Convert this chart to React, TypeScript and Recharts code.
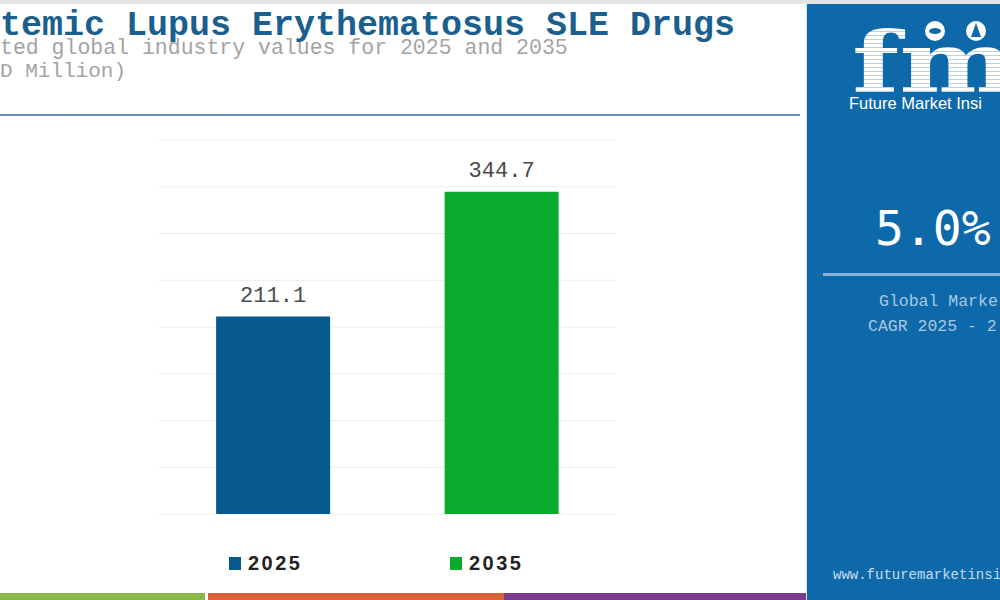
import React from 'react';
import { BarChart, Bar, XAxis, YAxis, CartesianGrid, Cell, LabelList } from 'recharts';

const years = ['2025', '2035'];
const values = [211.1, 344.7];
const barColors = ['#05598d', '#09ab2d'];
const yTicks = [0, 50, 100, 150, 200, 250, 300, 350, 400];

const MONO = '"Liberation Mono", "Courier New", monospace';

const chartData = years.map((y, i) => ({ year: y, value: values[i] }));

const Header = () => (
  <div style={{ position: 'absolute', left: 0, top: 0, width: 806, height: 120 }}>
    <div style={{ position: 'absolute', left: 0, top: 0, width: 1000, height: 4, background: '#e4e4e4' }} />
    <div style={{ position: 'absolute', left: 0, top: 8, fontFamily: MONO, fontWeight: 700, fontSize: 35, lineHeight: '36px', color: '#1b5f8e', whiteSpace: 'nowrap' }}>
      temic Lupus Erythematosus SLE Drugs
    </div>
    <div style={{ position: 'absolute', left: 0, top: 38, fontFamily: MONO, fontSize: 21.5, lineHeight: '21px', color: '#a3a3a3', whiteSpace: 'nowrap' }}>
      ted global industry values for 2025 and 2035
    </div>
    <div style={{ position: 'absolute', left: 0, top: 61, fontFamily: MONO, fontSize: 21, lineHeight: '21px', color: '#a3a3a3', whiteSpace: 'nowrap' }}>
      D Million)
    </div>
    <div style={{ position: 'absolute', left: 0, top: 114, width: 800, height: 2, background: 'linear-gradient(90deg, #6e91b8, #6a8fa8)' }} />
  </div>
);

const SidePanel = () => (
  <div style={{ position: 'absolute', left: 806, top: 4, width: 194, height: 596, background: '#0e69aa', overflow: 'hidden', borderLeft: '1px solid #dfe7ee', boxSizing: 'border-box' }}>
    <svg width={194} height={112} style={{ position: 'absolute', left: 0, top: -4 }}>
      <defs>
        <pattern id="stripes" width="4" height="4" patternUnits="userSpaceOnUse">
          <rect width="4" height="3" fill="#ffffff" />
          <rect y="3" width="4" height="1" fill="#b9d2e8" />
        </pattern>
      </defs>
      <text x={45} y={92} fontFamily='"DejaVu Serif", serif' fontWeight={700} fontSize={84} fill="url(#stripes)" textLength={205} lengthAdjust="spacingAndGlyphs">fmi</text>
      <circle cx={128} cy={31} r={10} fill="#ffffff" />
      <ellipse cx={128} cy={31} rx={6} ry={3} fill="#0e69aa" />
      <circle cx={169} cy={31} r={10} fill="#ffffff" />
      <path d="M169 23 L164 37 L174 37 Z" fill="#0e69aa" />
      <text x={42} y={109} fontFamily='"Liberation Sans", Arial, sans-serif' fontSize={16.5} fill="#ffffff">Future Market Insi</text>
    </svg>
    <div style={{ position: 'absolute', left: 68, top: 196, fontFamily: '"DejaVu Sans Mono", monospace', fontSize: 48, lineHeight: '56px', color: '#ffffff', whiteSpace: 'nowrap' }}>5.0%</div>
    <div style={{ position: 'absolute', left: 16, top: 269, width: 190, height: 3, background: '#86b4d8' }} />
    <div style={{ position: 'absolute', left: 72, top: 288, fontFamily: MONO, fontSize: 16.5, lineHeight: '20px', color: '#a8c8e2', whiteSpace: 'nowrap' }}>Global Marke</div>
    <div style={{ position: 'absolute', left: 61, top: 313, fontFamily: MONO, fontSize: 16.5, lineHeight: '20px', color: '#a8c8e2', whiteSpace: 'nowrap' }}>CAGR 2025 - 2</div>
    <div style={{ position: 'absolute', left: 26, top: 562, fontFamily: MONO, fontSize: 14, lineHeight: '18px', color: '#c6dcee', whiteSpace: 'nowrap' }}>www.futuremarketinsi</div>
  </div>
);

const LegendRow = () => (
  <div style={{ position: 'absolute', left: 0, top: 551, width: 806, height: 24 }}>
    {years.map((y, i) => (
      <div key={y} style={{ position: 'absolute', left: i === 0 ? 229 : 450, top: 0, display: 'flex', alignItems: 'center', height: 24 }}>
        <div style={{ width: 12, height: 13, background: barColors[i], marginRight: 7 }} />
        <span style={{ fontFamily: '"Liberation Sans", Arial, sans-serif', fontWeight: 700, fontSize: 20, letterSpacing: 2.5, color: '#222' }}>{y}</span>
      </div>
    ))}
  </div>
);

const BottomStrip = () => (
  <div style={{ position: 'absolute', left: 0, top: 593, width: 806, height: 7 }}>
    <div style={{ position: 'absolute', left: 0, width: 205, height: 7, background: '#8bba4b' }} />
    <div style={{ position: 'absolute', left: 208, width: 296, height: 7, background: '#d9643b' }} />
    <div style={{ position: 'absolute', left: 504, width: 302, height: 7, background: '#7b3a8c' }} />
  </div>
);

export default function App() {
  return (
    <div style={{ position: 'absolute', left: 0, top: 0, width: 1000, height: 600, background: '#ffffff', overflow: 'hidden' }}>
      <Header />
      <div style={{ position: 'absolute', left: 0, top: 0 }}>
        <BarChart
          width={806}
          height={600}
          data={chartData}
          margin={{ top: 140, right: 190, bottom: 86, left: 159 }}
          barCategoryGap="25%"
        >
          <CartesianGrid vertical={false} stroke="#ececec" />
          <XAxis dataKey="year" hide />
          <YAxis hide domain={[0, 400]} ticks={yTicks} />
          <Bar dataKey="value" isAnimationActive={false}>
            {chartData.map((d, i) => (
              <Cell key={d.year} fill={barColors[i]} />
            ))}
            <LabelList
              dataKey="value"
              position="top"
              offset={15}
              fill="#4a4a4a"
              style={{ fontFamily: MONO, fontSize: 22 }}
            />
          </Bar>
        </BarChart>
      </div>
      <LegendRow />
      <BottomStrip />
      <SidePanel />
    </div>
  );
}
